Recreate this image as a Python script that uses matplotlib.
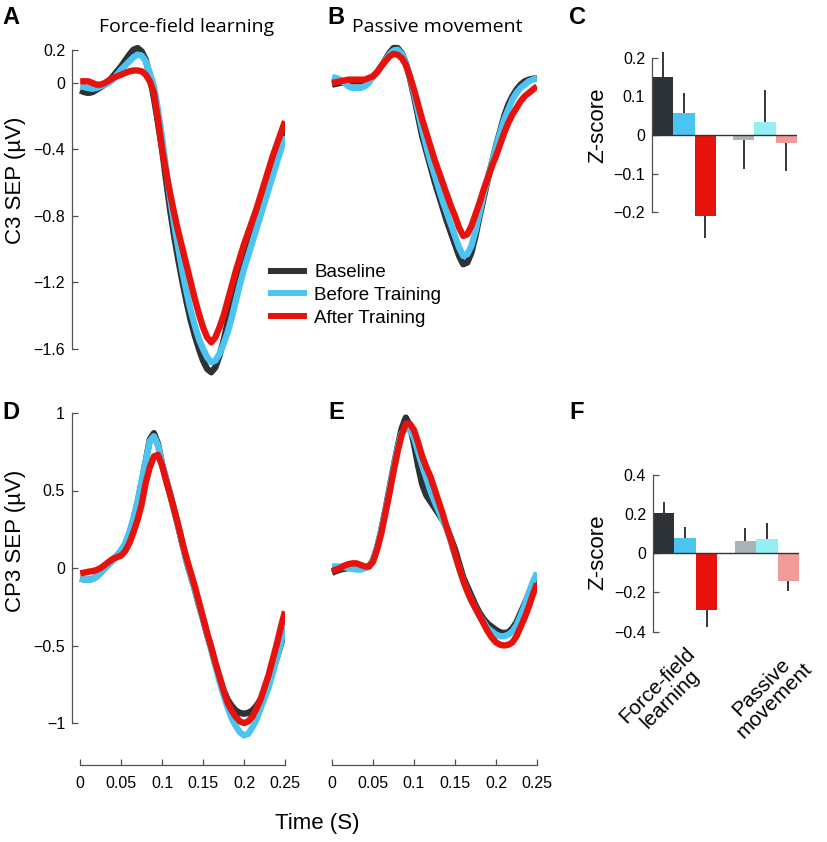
import matplotlib
matplotlib.use('Agg')
import matplotlib.pyplot as plt
import numpy as np

plt.rcParams['font.family'] = ['Liberation Sans', 'DejaVu Sans']

W, H = 827, 842

# time axis of the SEP traces (s), every 5 ms
time = np.round(np.linspace(0, 0.25, 51), 3)

# C3 SEP, force-field learning (uV)
c3_ff_base = [-0.045, -0.055, -0.06, -0.055, -0.04, -0.025, -0.01, 0.01, 0.04, 0.07,
              0.10, 0.135, 0.17, 0.20, 0.21, 0.19, 0.14, 0.04, -0.09, -0.24,
              -0.40, -0.59, -0.77, -0.93, -1.07, -1.20, -1.32, -1.43, -1.52, -1.60,
              -1.67, -1.72, -1.74, -1.71, -1.64, -1.55, -1.44, -1.32, -1.21, -1.11,
              -1.02, -0.93, -0.85, -0.77, -0.70, -0.62, -0.55, -0.48, -0.41, -0.34,
              -0.27]
c3_ff_before = [-0.02, -0.025, -0.03, -0.035, -0.03, -0.02, -0.01, 0.0, 0.02, 0.05,
                0.08, 0.105, 0.13, 0.155, 0.17, 0.165, 0.13, 0.06, -0.02, -0.16,
                -0.33, -0.52, -0.70, -0.86, -1.00, -1.14, -1.26, -1.37, -1.46, -1.54,
                -1.60, -1.65, -1.68, -1.67, -1.63, -1.57, -1.50, -1.41, -1.31, -1.21,
                -1.12, -1.04, -0.96, -0.88, -0.80, -0.72, -0.64, -0.56, -0.48, -0.40,
                -0.32]
c3_ff_after = [0.01, 0.01, 0.01, 0.0, -0.01, -0.01, 0.0, 0.015, 0.03, 0.04,
               0.05, 0.06, 0.07, 0.075, 0.075, 0.07, 0.05, 0.01, -0.06, -0.22,
               -0.40, -0.54, -0.67, -0.79, -0.90, -1.00, -1.10, -1.20, -1.30, -1.39,
               -1.47, -1.53, -1.56, -1.53, -1.47, -1.40, -1.31, -1.22, -1.13, -1.05,
               -0.97, -0.90, -0.83, -0.76, -0.68, -0.60, -0.52, -0.44, -0.37, -0.30,
               -0.23]

# C3 SEP, passive movement
c3_pm_base = [-0.01, -0.005, 0.0, 0.005, 0.01, 0.01, 0.01, 0.01, 0.01, 0.02,
              0.04, 0.065, 0.10, 0.14, 0.18, 0.21, 0.21, 0.18, 0.12, 0.03,
              -0.08, -0.20, -0.32, -0.41, -0.50, -0.59, -0.67, -0.75, -0.83, -0.90,
              -0.97, -1.04, -1.09, -1.08, -1.02, -0.92, -0.80, -0.69, -0.58, -0.48,
              -0.38, -0.29, -0.20, -0.13, -0.08, -0.04, -0.01, 0.01, 0.02, 0.025,
              0.03]
c3_pm_before = [0.035, 0.03, 0.02, 0.0, -0.02, -0.03, -0.03, -0.03, -0.02, 0.0,
                0.04, 0.065, 0.10, 0.135, 0.17, 0.195, 0.20, 0.175, 0.12, 0.04,
                -0.06, -0.17, -0.28, -0.38, -0.47, -0.55, -0.63, -0.71, -0.78, -0.85,
                -0.92, -0.99, -1.04, -1.03, -0.98, -0.89, -0.78, -0.67, -0.57, -0.48,
                -0.39, -0.30, -0.22, -0.16, -0.10, -0.06, -0.03, -0.01, 0.01, 0.02,
                0.03]
c3_pm_after = [0.0, 0.005, 0.01, 0.015, 0.02, 0.02, 0.02, 0.02, 0.02, 0.03,
               0.04, 0.065, 0.10, 0.13, 0.16, 0.175, 0.17, 0.15, 0.11, 0.04,
               -0.04, -0.13, -0.22, -0.30, -0.38, -0.46, -0.53, -0.60, -0.67, -0.74,
               -0.80, -0.87, -0.92, -0.91, -0.86, -0.79, -0.72, -0.64, -0.57, -0.50,
               -0.44, -0.37, -0.30, -0.24, -0.19, -0.15, -0.11, -0.08, -0.06, -0.04,
               -0.02]

# CP3 SEP, force-field learning
cp3_ff_base = [-0.067, -0.075, -0.077, -0.07, -0.056, -0.03, 0.0, 0.025, 0.05, 0.08,
               0.11, 0.15, 0.22, 0.31, 0.42, 0.55, 0.69, 0.83, 0.87, 0.80,
               0.67, 0.57, 0.47, 0.37, 0.26, 0.15, 0.04, -0.05, -0.14, -0.24,
               -0.33, -0.43, -0.52, -0.62, -0.71, -0.79, -0.85, -0.89, -0.92, -0.935,
               -0.94, -0.935, -0.92, -0.89, -0.85, -0.80, -0.74, -0.66, -0.58, -0.49,
               -0.40]
cp3_ff_before = [-0.067, -0.075, -0.077, -0.07, -0.056, -0.03, 0.0, 0.025, 0.05, 0.08,
                 0.115, 0.16, 0.23, 0.32, 0.43, 0.56, 0.69, 0.82, 0.85, 0.79,
                 0.67, 0.57, 0.47, 0.37, 0.26, 0.15, 0.04, -0.05, -0.14, -0.24,
                 -0.33, -0.43, -0.53, -0.63, -0.73, -0.82, -0.90, -0.97, -1.02, -1.06,
                 -1.08, -1.07, -1.03, -0.98, -0.91, -0.84, -0.77, -0.68, -0.58, -0.48,
                 -0.38]
cp3_ff_after = [-0.034, -0.03, -0.024, -0.02, -0.013, 0.0, 0.02, 0.04, 0.06, 0.07,
                0.08, 0.11, 0.16, 0.23, 0.31, 0.41, 0.55, 0.65, 0.72, 0.73,
                0.66, 0.56, 0.47, 0.37, 0.27, 0.16, 0.06, -0.03, -0.12, -0.22,
                -0.32, -0.42, -0.51, -0.61, -0.70, -0.79, -0.87, -0.92, -0.96, -0.99,
                -1.00, -0.99, -0.96, -0.91, -0.85, -0.77, -0.69, -0.59, -0.49, -0.38,
                -0.28]

# CP3 SEP, passive movement
cp3_pm_base = [-0.03, -0.02, -0.01, -0.005, 0.0, 0.01, 0.015, 0.01, 0.0, 0.01,
               0.05, 0.13, 0.24, 0.37, 0.51, 0.65, 0.78, 0.90, 0.97, 0.92,
               0.80, 0.66, 0.54, 0.47, 0.43, 0.39, 0.35, 0.31, 0.26, 0.19,
               0.12, 0.03, -0.06, -0.12, -0.18, -0.24, -0.29, -0.33, -0.36, -0.38,
               -0.40, -0.415, -0.42, -0.415, -0.39, -0.35, -0.29, -0.23, -0.17, -0.11,
               -0.06]
cp3_pm_before = [0.01, 0.01, 0.01, 0.005, 0.0, -0.005, -0.01, -0.01, 0.0, 0.01,
                 0.05, 0.13, 0.24, 0.36, 0.50, 0.64, 0.77, 0.87, 0.90, 0.89,
                 0.84, 0.75, 0.66, 0.58, 0.50, 0.43, 0.37, 0.31, 0.25, 0.17,
                 0.08, 0.0, -0.08, -0.15, -0.21, -0.26, -0.31, -0.35, -0.39, -0.41,
                 -0.43, -0.44, -0.44, -0.43, -0.41, -0.37, -0.31, -0.24, -0.16, -0.09,
                 -0.03]
cp3_pm_after = [-0.02, -0.01, 0.0, 0.015, 0.025, 0.03, 0.03, 0.02, 0.01, 0.01,
                0.04, 0.12, 0.22, 0.35, 0.48, 0.62, 0.75, 0.86, 0.93, 0.93,
                0.89, 0.81, 0.72, 0.65, 0.59, 0.51, 0.43, 0.35, 0.26, 0.18,
                0.09, 0.0, -0.08, -0.15, -0.21, -0.26, -0.31, -0.36, -0.41, -0.45,
                -0.48, -0.495, -0.50, -0.495, -0.48, -0.44, -0.38, -0.32, -0.25, -0.17,
                -0.10]

# z-scores: FF baseline, FF before, FF after, PM baseline, PM before, PM after
bar_pos = [0.5, 1.5, 2.5, 4.3, 5.3, 6.3]
z_c3 = [0.151, 0.056, -0.209, -0.013, 0.033, -0.020]
z_c3_err = [0.063, 0.052, 0.058, 0.076, 0.083, 0.072]
z_cp3 = [0.207, 0.077, -0.289, 0.063, 0.073, -0.141]
z_cp3_err = [0.056, 0.059, 0.085, 0.068, 0.080, 0.050]
group_labels = ['Force-field\nlearning', 'Passive\nmovement']

BASE, BEFORE, AFTER = '#2c3236', '#4cc4f2', '#e8120c'
trace_colors = [BASE, BEFORE, AFTER]
bar_colors = [BASE, BEFORE, AFTER, '#a8b3b5', '#93eef5', '#f09b9a']
SPINE = '#505050'


def box(l, t, r, b):
    return [l / W, 1 - b / H, (r - l) / W, (b - t) / H]


def trace_axes(rect, series, ylim):
    ax = fig.add_axes(rect)
    for vals, col in zip(series, trace_colors):
        ax.plot(time, vals, color=col, lw=4.6, solid_joinstyle='round', solid_capstyle='butt')
    ax.set_xlim(-0.01, 0.25)
    ax.set_ylim(*ylim)
    for s in ax.spines.values():
        s.set_visible(False)
        s.set_color(SPINE)
        s.set_linewidth(0.9)
    ax.tick_params(direction='in', length=4, width=0.9, color=SPINE, labelsize=11.5, pad=5)
    ax.set_xticks([])
    ax.set_yticks([])
    ax.patch.set_visible(False)
    return ax


def fmt(v):
    return f'{v:g}'.replace('-', '\u2212')


fig = plt.figure(figsize=(W / 100, H / 100), dpi=100)

# A
ax_a = trace_axes(box(72, 41.4, 285, 382.25), [c3_ff_base, c3_ff_before, c3_ff_after], (-1.8, 0.25))
ax_a.spines['left'].set_visible(True)
ax_a.spines['left'].set_bounds(-1.6, 0.2)
a_ticks = [0.2, 0, -0.4, -0.8, -1.2, -1.6]
ax_a.set_yticks(a_ticks, [fmt(v) for v in a_ticks])
ax_a.set_ylabel('C3 SEP (\u00b5V)', fontsize=16)
ax_a.yaxis.set_label_coords(-(72 - 26) / 213, (382.25 - 180) / 340.85)

# B
trace_axes(box(323.8, 41.4, 537, 382.25), [c3_pm_base, c3_pm_before, c3_pm_after], (-1.8, 0.25))

# D
ax_d = trace_axes(box(72, 405.25, 285, 746.25), [cp3_ff_base, cp3_ff_before, cp3_ff_after], (-1.15, 1.05))
ax_d.spines['left'].set_visible(True)
ax_d.spines['left'].set_bounds(-1, 1)
d_ticks = [1, 0.5, 0, -0.5, -1]
ax_d.set_yticks(d_ticks, [fmt(v) for v in d_ticks])
ax_d.set_ylabel('CP3 SEP (\u00b5V)', fontsize=16)
ax_d.yaxis.set_label_coords(-(72 - 26) / 213, (746.25 - 541) / 341)

# E
ax_e = trace_axes(box(323.8, 405.25, 537, 746.25), [cp3_pm_base, cp3_pm_before, cp3_pm_after], (-1.15, 1.05))

x_ticks = [0, 0.05, 0.1, 0.15, 0.2, 0.25]
for ax in (ax_d, ax_e):
    sp = ax.spines['bottom']
    sp.set_visible(True)
    sp.set_position(('outward', 13.5))
    sp.set_bounds(0, 0.25)
    ax.set_xticks(x_ticks, [fmt(v) for v in x_ticks])
    ax.tick_params(axis='x', pad=8)

fig.text(317 / W, 1 - 823 / H, 'Time (S)', fontsize=16, ha='center', va='center')


def bar_axes(rect, vals, errs, ylim, ticks):
    ax = fig.add_axes(rect)
    ax.bar(bar_pos, vals, width=1.0, color=bar_colors, linewidth=0, zorder=2)
    vals = np.array(vals)
    errs = np.array(errs)
    lower = np.where(vals < 0, errs, 0)
    upper = np.where(vals >= 0, errs, 0)
    ax.errorbar(bar_pos, vals, yerr=[lower, upper], fmt='none', ecolor='black',
                elinewidth=1.1, capsize=0, zorder=1)
    ax.axhline(0, color='#333333', lw=1.0, zorder=3)
    ax.set_xlim(0, 6.8)
    ax.set_ylim(*ylim)
    for name, s in ax.spines.items():
        s.set_visible(name == 'left')
        s.set_color(SPINE)
        s.set_linewidth(0.9)
    ax.spines['left'].set_bounds(ticks[-1], ticks[0])
    ax.set_yticks(ticks, [fmt(v) for v in ticks])
    ax.tick_params(axis='y', direction='in', length=4, width=0.9, color=SPINE, labelsize=11.5, pad=5)
    ax.set_xticks([])
    ax.set_ylabel('Z-score', fontsize=16)
    ax.patch.set_visible(False)
    return ax


ax_c = bar_axes(box(652, 38.25, 797, 251), z_c3, z_c3_err, (-0.3, 0.25), [0.2, 0.1, 0, -0.1, -0.2])
ax_c.yaxis.set_label_coords(-(652 - 608) / 145, (251 - 125) / 212.75)
ax_f = bar_axes(box(653, 471, 799, 635.6), z_cp3, z_cp3_err, (-0.42, 0.42), [0.4, 0.2, 0, -0.2, -0.4])
ax_f.yaxis.set_label_coords(-(653 - 608) / 146, (635.6 - 552) / 164.6)

# rotated group labels under F
for lab, (cx, cy) in zip(group_labels, [(664, 692), (768, 694)]):
    fig.text(cx / W, 1 - cy / H, lab, rotation=45, ha='center', va='center',
             multialignment='center', fontsize=15, linespacing=1.0)

# titles and panel letters
title_font = ['Open Sans', 'DejaVu Sans']
fig.text(187 / W, 1 - 27 / H, 'Force-field learning', fontsize=14, ha='center', va='center', family=title_font)
fig.text(437 / W, 1 - 27 / H, 'Passive movement', fontsize=14, ha='center', va='center', family=title_font)
for letter, (x, y) in zip('ABCDEF', [(11, 17), (336, 18), (578, 18), (11, 412), (336, 412), (577, 412)]):
    fig.text(x / W, 1 - y / H, letter, fontsize=17, fontweight='bold', ha='center', va='center')

# legend
handles = [plt.Line2D([], [], color=c, lw=4.3) for c in trace_colors]
fig.legend(handles, ['Baseline', 'Before Training', 'After Training'], loc='upper left',
           bbox_to_anchor=(271 / W, 1 - 264 / H), frameon=False, fontsize=13.5,
           handlelength=1.75, handletextpad=0.55, labelspacing=0.3, borderpad=0, borderaxespad=0)

fig.savefig('out.png', dpi=100)
